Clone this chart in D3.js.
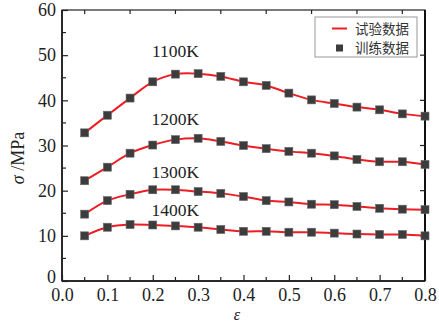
<!DOCTYPE html>
<html><head><meta charset="utf-8">
<script src="https://cdn.jsdelivr.net/npm/d3@7"></script>
<style>body{margin:0;background:#fff}svg{display:block}</style>
</head><body><svg id="c" width="439" height="325"></svg>
<script>
const strain = [0.05,0.10,0.15,0.20,0.25,0.30,0.35,0.40,0.45,0.50,0.55,0.60,0.65,0.70,0.75,0.80];
const s1100 = [32.8,36.7,40.5,44.1,45.8,45.9,45.3,44.1,43.3,41.6,40.1,39.3,38.5,37.9,37.0,36.5];
const s1200 = [22.2,25.2,28.3,30.1,31.3,31.6,30.9,30.0,29.3,28.7,28.3,27.7,26.9,26.4,26.4,25.8];
const s1300 = [14.8,17.8,19.2,20.2,20.2,19.8,19.4,18.7,17.8,17.5,17.0,16.9,16.5,16.1,15.9,15.8];
const s1400 = [10.0,11.9,12.5,12.4,12.2,11.9,11.4,11.0,11.0,10.8,10.8,10.6,10.4,10.3,10.3,10.0];
const seriesLabels = ["1100K","1200K","1300K","1400K"];
const xTicks = [0,0.1,0.2,0.3,0.4,0.5,0.6,0.7,0.8];
const yTicks = [0,10,20,30,40,50,60];
const legendLabels = ["试验数据","训练数据"];

const series = [s1100,s1200,s1300,s1400];
const labelAnchor = [[0.25,49.5],[0.25,34.6],[0.25,22.8],[0.25,14.4]];

const svg = d3.select("#c");
const L=62,R=425,T=10,B=281;
const x = d3.scaleLinear().domain([0,0.8]).range([L,R]);
const y = d3.scaleLinear().domain([0,60]).range([B,T]);
const serif = "'Liberation Serif','DejaVu Serif','Noto Serif',serif";

svg.append("rect").attr("x",L).attr("y",T).attr("width",R-L).attr("height",B-T)
  .attr("fill","none").attr("stroke","#222").attr("stroke-width",1.2);
svg.append("line").attr("x1",R).attr("x2",R).attr("y1",T).attr("y2",B).attr("stroke","#111").attr("stroke-width",2);
svg.append("line").attr("x1",L).attr("x2",L).attr("y1",T).attr("y2",B).attr("stroke","#111").attr("stroke-width",1.5);
svg.append("line").attr("x1",L).attr("x2",R).attr("y1",B).attr("y2",B).attr("stroke","#111").attr("stroke-width",1.5);

const gx = svg.append("g").attr("transform",`translate(0,${B})`)
  .call(d3.axisBottom(x).tickValues(xTicks).tickFormat(d3.format(".1f")).tickSizeInner(-6).tickSizeOuter(0).tickPadding(7));
gx.attr("font-family",null).attr("font-size",null);
gx.select(".domain").remove();
gx.selectAll("line").attr("stroke","#222").attr("stroke-width",1.2);
gx.selectAll("text").style("font-family",serif).style("font-size","18px").attr("fill","#222");
svg.append("g").selectAll("line").data(d3.range(0.05,0.8,0.1)).join("line")
  .attr("x1",d=>x(d)).attr("x2",d=>x(d)).attr("y1",B).attr("y2",B-4).attr("stroke","#222").attr("stroke-width",1.2);
svg.append("g").selectAll("line").data(d3.range(0.05,0.8,0.1)).join("line")
  .attr("x1",d=>x(d)).attr("x2",d=>x(d)).attr("y1",T).attr("y2",T+4).attr("stroke","#222").attr("stroke-width",1.2);

const gy = svg.append("g").attr("transform",`translate(${L},0)`)
  .call(d3.axisLeft(y).tickValues(yTicks).tickSizeInner(-6).tickSizeOuter(0).tickPadding(6));
gy.attr("font-family",null).attr("font-size",null);
gy.select(".domain").remove();
gy.selectAll("line").attr("stroke","#222").attr("stroke-width",1.2);
gy.selectAll("text").style("font-family",serif).style("font-size","18px").attr("fill","#222")
  .attr("y",d=>d===0?-4:0);
svg.append("g").selectAll("line").data(d3.range(5,60,10)).join("line")
  .attr("x1",L).attr("x2",L+4).attr("y1",d=>y(d)).attr("y2",d=>y(d)).attr("stroke","#222").attr("stroke-width",1.2);
svg.append("g").selectAll("line").data([10,20,30,40,50]).join("line")
  .attr("x1",R).attr("x2",R-5).attr("y1",d=>y(d)).attr("y2",d=>y(d)).attr("stroke","#222").attr("stroke-width",1.2);

const line = d3.line().x((d,i)=>x(strain[i])).y(d=>y(d)).curve(d3.curveCatmullRom.alpha(0.5));
series.forEach(s=>{
  svg.append("path").datum(s).attr("d",line).attr("fill","none").attr("stroke","#ee1d23").attr("stroke-width",2);
});
const ms=8;
series.forEach(s=>{
  svg.append("g").selectAll("rect").data(s).join("rect")
    .attr("x",(d,i)=>x(strain[i])-ms/2).attr("y",d=>y(d)-ms/2).attr("width",ms).attr("height",ms)
    .attr("fill","#3c3c3c").attr("stroke","#666").attr("stroke-width",0.6);
});
seriesLabels.forEach((t,i)=>{
  svg.append("text").attr("x",x(labelAnchor[i][0])).attr("y",y(labelAnchor[i][1]))
    .attr("text-anchor","middle").style("font-family",serif).style("font-size","17.5px").attr("fill","#222").text(t);
});

svg.append("text").attr("x",237).attr("y",320).attr("text-anchor","middle")
  .style("font-family",serif).style("font-style","italic").style("font-size","16px").attr("fill","#222").text("ε");
const yt = svg.append("text").attr("transform","translate(24,158) rotate(-90)").attr("text-anchor","middle")
  .style("font-family",serif).style("font-size","18px").attr("fill","#222");
yt.append("tspan").style("font-style","italic").text("σ");
yt.append("tspan").text(" /MPa");

const lg = svg.append("g");
lg.append("rect").attr("x",315).attr("y",17).attr("width",102).attr("height",40)
  .attr("fill","#fff").attr("stroke","#999").attr("stroke-width",1);
lg.append("line").attr("x1",332).attr("x2",347).attr("y1",28.5).attr("y2",28.5).attr("stroke","#ee1d23").attr("stroke-width",2);
lg.append("rect").attr("x",336).attr("y",44.5).attr("width",7).attr("height",7).attr("fill","#3c3c3c");
legendLabels.forEach((t,i)=>{
  lg.append("text").attr("x",355).attr("y",33.5+i*19.5).style("font-family","'Noto Sans CJK SC',sans-serif")
    .style("font-size","13.5px").attr("fill","#333").text(t);
});
</script></body></html>
